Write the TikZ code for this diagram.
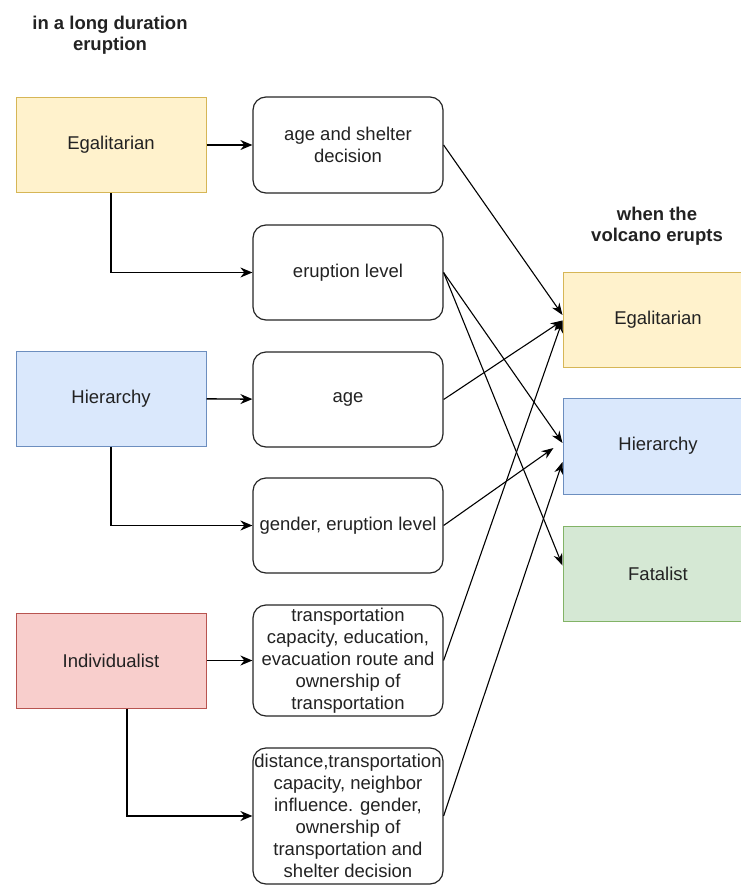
\documentclass[tikz,border=0pt]{standalone}
\usepackage{fontspec}
\setmainfont{Liberation Sans}
\usetikzlibrary{arrows.meta}
\definecolor{txt}{HTML}{222222}
\definecolor{egfill}{HTML}{FFF2CC}\definecolor{egline}{HTML}{D6B656}
\definecolor{hifill}{HTML}{DAE8FC}\definecolor{hiline}{HTML}{6C8EBF}
\definecolor{infill}{HTML}{F8CECC}\definecolor{inline}{HTML}{B85450}
\definecolor{fafill}{HTML}{D5E8D4}\definecolor{faline}{HTML}{82B366}
\begin{document}
\begin{tikzpicture}[x=1pt,y=-1pt,
  font=\fontsize{18.5}{22}\selectfont,
  culture/.style={rectangle, line width=1pt, minimum width=190pt, minimum height=95pt,
    inner sep=0pt, align=center, text=txt},
  factor/.style={rectangle, draw=black!85, line width=1.2pt, rounded corners=13pt,
    minimum width=190pt, inner sep=0pt, align=center, fill=white, text=txt},
  heading/.style={align=center, font=\fontsize{18.5}{21}\selectfont\bfseries, text=txt},
  link/.style={line width=1.4pt, -{Stealth[length=12pt,width=10pt]}},
  cross/.style={line width=1.1pt, -{Stealth[length=12pt,width=9pt]}}]
\useasboundingbox (0,0) rectangle (741,886);

% column headings
\node[heading] (hdL) at (110,35) {in a long duration\\eruption};
\node[heading] (hdR) at (657,226.5) {when the\\volcano erupts};

% cultural types before the eruption
\node[culture, fill=egfill, draw=egline] (egL) at (111,145) {Egalitarian};
\node[culture, fill=hifill, draw=hiline] (hiL) at (111,398.5) {Hierarchy};
\node[culture, fill=infill, draw=inline] (inL) at (111,660.5) {Individualist};

% influencing factors
\node[factor, minimum height=96pt] (m1) at (348,145) {age and shelter\\decision};
\node[factor, minimum height=95pt] (m2) at (348,272.5) {eruption level};
\node[factor, minimum height=95pt] (m3) at (348,399.5) {age};
\node[factor, minimum height=95pt] (m4) at (348,525.5) {gender, eruption level};
\node[factor, minimum height=111pt] (m5) at (348,660.5)
  {transportation\\capacity, education,\\evacuation route and\\ownership of\\transportation};
\node[factor, minimum height=136pt] (m6) at (348,816)
  {distance,transportation\\capacity, neighbor\\influence. gender,\\ownership of\\transportation and\\shelter decision};

% cultural types when the volcano erupts
\node[culture, fill=egfill, draw=egline] (egR) at (658,319.5) {Egalitarian};
\node[culture, fill=hifill, draw=hiline, minimum height=96pt] (hiR) at (658,446) {Hierarchy};
\node[culture, fill=fafill, draw=faline] (faR) at (658,573.5) {Fatalist};

% left column to factors
\draw[link] (egL) -- (m1);
\draw[link] (egL.south) |- (m2.west);
\draw[link] (hiL) -- (m3);
\draw[link] (hiL.south) |- (m4.west);
\draw[link] (inL) -- (m5);
\draw[link] ([xshift=16pt]inL.south) |- (m6.west);

% factors to right column
\draw[cross] (m1.east) -- ([yshift=4.5pt]egR.west);
\draw[cross] (m2.east) -- ([yshift=3pt]hiR.west);
\draw[cross] (m2.east) -- ([yshift=8pt]faR.west);
\draw[cross] (m3.east) -- ([yshift=-1pt]egR.west);
\draw[cross] (m4.east) -- ([yshift=-2pt,xshift=-9pt]hiR.west);
\draw[cross] (m5.east) -- ([yshift=-1pt]egR.west);
\draw[cross] (m6.east) -- ([yshift=-16pt]hiR.west);
\end{tikzpicture}
\end{document}
